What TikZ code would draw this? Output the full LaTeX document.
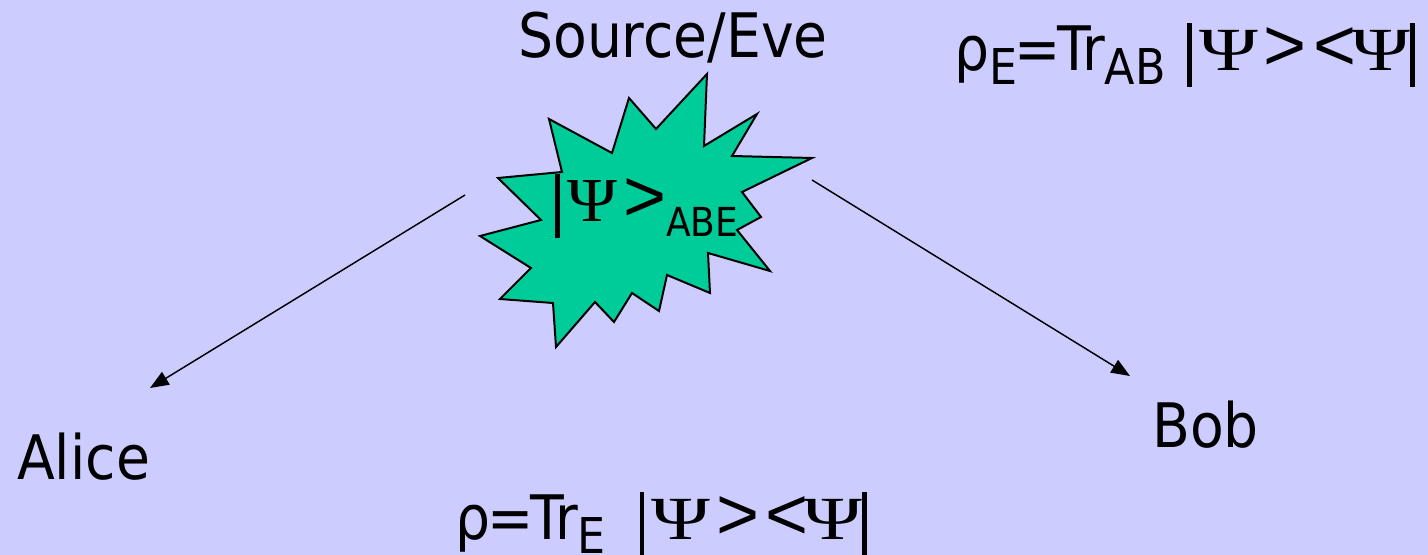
\documentclass[tikz,border=0pt]{standalone}
\usepackage{fontspec}
\setmainfont{DejaVu Sans Condensed}
\newfontfamily\psifont{Liberation Serif}
\newfontfamily\relfont{Liberation Sans}
\usetikzlibrary{arrows.meta}
\definecolor{bgblue}{HTML}{CCCCFF}
\definecolor{burst}{HTML}{00CC99}
\newcommand\vbar{\rule[-0.26em]{0.075em}{1.04em}}
\newcommand\Psig{\scalebox{1.3}[1.0]{\psifont Ψ}}
\newcommand\Psis{\scalebox{1.1}[1.02]{\psifont Ψ}}
\newcommand\gtr{\scalebox{1.2}{\relfont >}}
\newcommand\lss{\scalebox{1.2}{\relfont <}}
\newcommand\subs[1]{\raisebox{-0.22em}{\fontsize{37}{37}\selectfont #1}}
\tikzset{
  lbl/.style={inner sep=0pt, anchor=base west, font=\fontsize{46}{46}\selectfont},
  conn/.style={line width=1.1pt, -{Triangle[length=14pt,width=11pt]}},
  burststyle/.style={fill=burst, draw=black, line width=1.5pt, line join=miter}
}
\begin{document}
\begin{tikzpicture}[x=0.75pt,y=-0.75pt]
\fill[bgblue] (0,0) rectangle (1428,555);
\useasboundingbox (0,0) rectangle (1428,555);
% starburst
\draw[burststyle] (549,119) -- (612,153) -- (629,98) -- (656,129) -- (707,74) -- (704,146)
  -- (757,114) -- (732,156) -- (812,158) -- (742,192) -- (761,217) -- (737,230)
  -- (770,271) -- (708,253) -- (710,293) -- (667,275) -- (659,311) -- (632,293)
  -- (614,322) -- (595,302) -- (556,347) -- (553,303) -- (500,299) -- (531,268)
  -- (480,236) -- (541,220) -- (498,178) -- (562,172) -- cycle;
\node[lbl] (state) at (555,222) {\vbar\kern0.12em\Psis\kern0.1em\gtr\raisebox{-11pt}{\fontsize{30}{30}\selectfont ABE}};
\node[lbl, anchor=base] (eve) at (673,58) {Source/Eve};
\node[lbl] (alice) at (17,480) {Alice};
\node[lbl] (bob) at (1152,448) {Bob};
\node[lbl] (rhoE) at (954,71) {ρ\subs{E}\kern-0.05em=\kern-0.05em Tr\subs{AB}\kern0.35em\vbar\kern0.12em\Psig\kern0.1em\gtr\kern0.1em\lss\kern-0.08em\Psig\vbar};
\node[lbl] (rho) at (455,540) {ρ\kern-0.05em=\kern-0.05em Tr\subs{E}\kern0.55em\vbar\kern0.12em\Psig\kern0.1em\gtr\kern0.1em\lss\kern-0.08em\Psig\vbar};
\coordinate (aS) at (465,195);
\coordinate (bS) at (812,180);
\coordinate (aE) at (150,388);
\coordinate (bE) at (1130,376);
\draw[conn] (aS) -- (aE);
\draw[conn] (bS) -- (bE);
\end{tikzpicture}
\end{document}
